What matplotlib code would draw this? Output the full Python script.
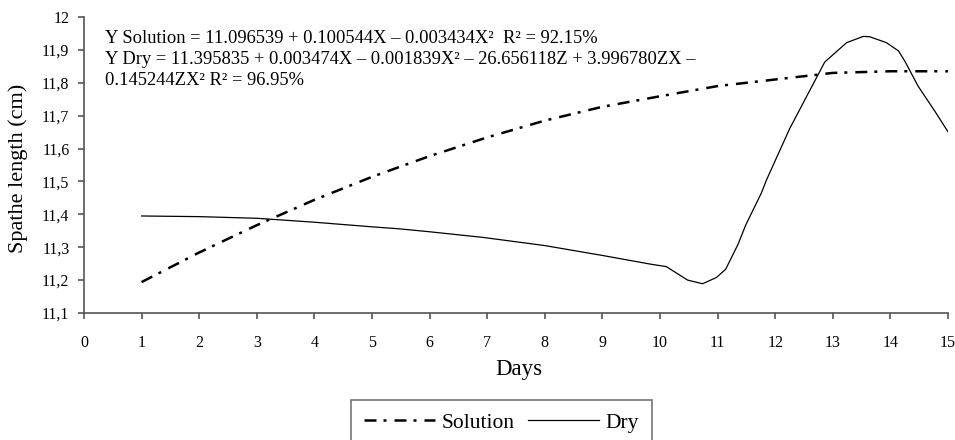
import matplotlib
matplotlib.use("Agg")
import matplotlib.pyplot as plt
from matplotlib.ticker import FuncFormatter

plt.rcParams['font.family'] = ['Liberation Serif', 'DejaVu Serif']

# Solution series, read at each day
sol_days = [1, 2, 3, 4, 5, 6, 7, 8, 9, 10, 11, 12, 13, 14, 15]
sol_len = [11.194, 11.284, 11.367, 11.444, 11.514, 11.577, 11.634, 11.685,
           11.727, 11.759, 11.790, 11.810, 11.830, 11.835, 11.835]

# Dry series
dry_days = [1, 2, 3, 4, 5, 5.47, 6, 6.92, 8, 9, 9.82, 10.11, 10.48, 10.74,
            10.98, 11.14, 11.35, 11.49, 11.76, 11.85, 12.25, 12.55, 12.86,
            13.24, 13.53, 13.64, 13.93, 14.14, 14.25, 14.48, 14.77, 15.0]
dry_len = [11.395, 11.393, 11.388, 11.376, 11.362, 11.356, 11.347, 11.330,
           11.305, 11.275, 11.249, 11.241, 11.200, 11.189, 11.208, 11.233,
           11.307, 11.368, 11.465, 11.505, 11.660, 11.760, 11.863, 11.922,
           11.941, 11.940, 11.922, 11.897, 11.866, 11.790, 11.714, 11.651]

eq_lines = [
    "Y Solution = 11.096539 + 0.100544X \u2013 0.003434X\u00b2  R\u00b2 = 92.15%",
    "Y Dry = 11.395835 + 0.003474X \u2013 0.001839X\u00b2 \u2013 26.656118Z + 3.996780ZX \u2013",
    "0.145244ZX\u00b2 R\u00b2 = 96.95%",
]

W, H = 955, 440
fig = plt.figure(figsize=(W / 100, H / 100), dpi=100)
# axes box in pixels: x 84..948, y 17..313 (from top)
ax = fig.add_axes([84 / W, 1 - 313 / H, 864 / W, 296 / H])

ax.plot(sol_days, sol_len, color='black', lw=1.8,
        dashes=(4.8, 2.8, 1.2, 3.2), label='Solution')
ax.plot(dry_days, dry_len, color='black', lw=0.9, label='Dry')

ax.set_xlim(0, 15)
ax.set_ylim(11.1, 12.0)
ax.set_xticks(range(0, 16))
ax.set_yticks([11.1 + 0.1 * i for i in range(10)])
ax.yaxis.set_major_formatter(FuncFormatter(
    lambda v, p: ('%.1f' % v).replace('.', ',').replace(',0', '')))

for s in ['top', 'right']:
    ax.spines[s].set_visible(False)
for s in ['left', 'bottom']:
    ax.spines[s].set_color('#555555')
    ax.spines[s].set_linewidth(1.2)
ax.tick_params(direction='out', length=4.5, width=1.2, color='#555555',
               labelsize=11.5)
ax.tick_params(axis='y', pad=6)
ax.tick_params(axis='x', pad=11)

ax.set_xlabel('Days', fontsize=16.5)
ax.xaxis.label.set_va('center')
ax.xaxis.set_label_coords(0.503, (313 - 369) / 296)
ax.set_ylabel('Spathe length (cm)', fontsize=16)
ax.yaxis.label.set_va('center')
ax.yaxis.set_label_coords((18 - 84) / 864, (313 - 168) / 296)

for i, line in enumerate(eq_lines):
    fig.text(105 / W, 1 - (38 + 21 * i) / H, line, fontsize=13.3,
             va='center', ha='left')

leg = fig.legend(loc='upper center', bbox_to_anchor=(501.5 / W, 1 - 400 / H),
                 ncol=2, frameon=True, fancybox=False, fontsize=15.5,
                 handlelength=3.3, columnspacing=0.6, handletextpad=0.33,
                 borderpad=0.6, borderaxespad=0)
leg.get_frame().set_edgecolor('#555555')
leg.get_frame().set_linewidth(1.2)

fig.savefig('out.png', dpi=100)
